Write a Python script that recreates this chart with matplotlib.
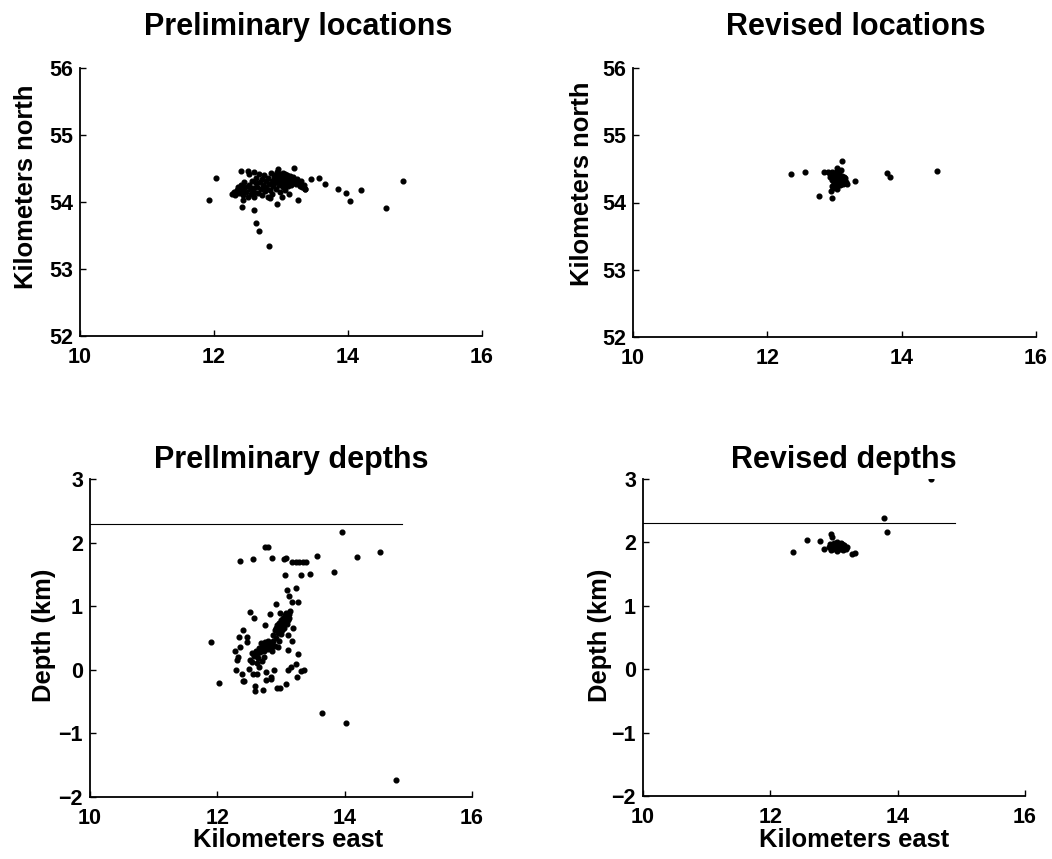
import matplotlib
matplotlib.use("Agg")
import matplotlib.pyplot as plt

plt.rcParams['font.family'] = ['Liberation Sans', 'DejaVu Sans']
plt.rcParams['font.weight'] = 'bold'

W = 1052
H = 859

# preliminary epicentres (km east, km north)
prelim_loc_east = [11.92, 12.03, 12.42, 12.44, 12.59, 12.63, 12.67, 12.82, 12.94, 13.25,
                   13.20, 13.45, 13.57, 13.65, 13.85, 13.97, 14.03, 14.19, 14.57, 14.82,
                   13.36, 12.41, 12.51, 12.52, 12.59, 12.96,
                   12.27, 12.30, 12.32, 12.35, 12.36, 12.38, 12.40, 12.42, 12.44, 12.45,
                   12.47, 12.48, 12.50, 12.52, 12.53, 12.55, 12.56, 12.58, 12.60, 12.60,
                   12.62, 12.63, 12.64, 12.66, 12.67, 12.68, 12.70, 12.71, 12.72, 12.73,
                   12.75, 12.76, 12.77, 12.78, 12.80, 12.81, 12.82, 12.83, 12.85, 12.86,
                   12.87, 12.88, 12.89, 12.90,
                   12.91, 12.92, 12.93, 12.94, 12.95, 12.96, 12.97, 12.98, 12.99, 13.00,
                   13.00, 13.01, 13.02, 13.03, 13.03, 13.04, 13.05, 13.05, 13.06, 13.07,
                   13.08, 13.08, 13.09, 13.10, 13.10, 13.11, 13.12, 13.13, 13.14, 13.15,
                   13.16, 13.17, 13.18, 13.20, 13.22, 13.24, 13.26, 13.28, 13.30, 13.32,
                   13.34, 13.36, 12.98, 13.06, 13.12, 12.84, 13.02]
prelim_loc_north = [54.03, 54.36, 53.93, 54.03, 53.88, 53.69, 53.56, 53.35, 53.97, 54.03,
                    54.51, 54.34, 54.36, 54.27, 54.20, 54.14, 54.01, 54.18, 53.91, 54.31,
                    54.20, 54.46, 54.47, 54.42, 54.45, 54.50,
                    54.12, 54.15, 54.10, 54.18, 54.22, 54.13, 54.26, 54.18, 54.11, 54.30,
                    54.22, 54.15, 54.08, 54.25, 54.19, 54.12, 54.32, 54.21, 54.15, 54.08,
                    54.28, 54.36, 54.22, 54.14, 54.42, 54.30, 54.20, 54.10, 54.35, 54.26,
                    54.40, 54.16, 54.31, 54.22, 54.08, 54.36, 54.27, 54.18, 54.44, 54.32,
                    54.12, 54.24, 54.38, 54.29,
                    54.40, 54.34, 54.20, 54.45, 54.30, 54.38, 54.25, 54.42, 54.33, 54.36,
                    54.28, 54.40, 54.31, 54.44, 54.22, 54.35, 54.38, 54.30, 54.42, 54.33,
                    54.27, 54.37, 54.40, 54.32, 54.24, 54.36, 54.29, 54.39, 54.33, 54.26,
                    54.35, 54.30, 54.38, 54.32, 54.27, 54.34, 54.29, 54.24, 54.31, 54.22,
                    54.26, 54.20, 54.15, 54.18, 54.12, 54.06, 54.08]

# revised epicentres
revised_loc_east = [12.35, 12.56, 13.11, 13.31, 13.78, 13.83, 14.52, 12.77, 12.96, 12.95,
                    13.03, 12.85,
                    12.90, 12.93, 12.96, 12.98, 13.00, 13.02, 13.03, 13.05, 13.06, 13.07,
                    13.08, 13.09, 13.10, 13.10, 13.11, 13.12, 13.13, 13.14, 13.15, 13.16,
                    13.17, 13.18, 13.05, 13.03, 13.00, 12.99, 12.97, 12.96, 12.98, 13.02,
                    13.08, 13.12, 13.14, 13.06, 13.09, 13.04, 13.07, 13.11, 13.01, 12.94]
revised_loc_north = [54.43, 54.46, 54.61, 54.32, 54.44, 54.38, 54.47, 54.09, 54.07, 54.17,
                     54.20, 54.46,
                     54.45, 54.43, 54.46, 54.40, 54.44, 54.38, 54.47, 54.42, 54.35, 54.40,
                     54.31, 54.37, 54.33, 54.28, 54.40, 54.35, 54.30, 54.33, 54.29, 54.36,
                     54.31, 54.28, 54.30, 54.33, 54.35, 54.29, 54.33, 54.25, 54.22, 54.26,
                     54.26, 54.27, 54.38, 54.45, 54.48, 54.52, 54.28, 54.31, 54.41, 54.38]

# preliminary depths (km east, depth km)
prelim_dep_east = [13.96, 11.90, 12.02, 12.35, 12.56, 12.75, 12.80, 12.86, 13.05, 13.08,
                   13.18, 13.23, 13.28, 13.34, 13.39, 13.56, 13.84, 14.19, 14.56, 13.07,
                   13.31, 13.45, 13.10, 13.24, 13.13, 13.17, 13.26, 12.92, 12.51, 12.57,
                   12.82, 12.75, 12.98, 13.19, 13.18, 13.11, 12.40, 12.34, 12.46, 12.47,
                   12.35, 12.27, 12.33, 12.31, 13.11, 13.27, 13.24, 12.49, 12.62, 12.30,
                   12.38, 12.40, 12.42, 12.56, 12.62, 12.77, 12.84, 12.89, 12.76, 12.85,
                   12.59, 12.59, 12.72, 12.93, 12.98, 13.08, 13.11, 13.15, 13.25, 13.32,
                   13.36, 13.64, 14.02, 14.80,
                   12.90, 12.92, 12.94, 12.96, 12.97, 12.99, 13.00, 13.02, 13.03, 13.05,
                   13.06, 13.07, 13.08, 13.10, 13.11, 13.12, 13.13, 13.04, 12.95, 12.98,
                   13.01, 13.09, 13.14, 12.88, 13.00,
                   12.60, 12.63, 12.65, 12.67, 12.68, 12.70, 12.72, 12.73, 12.75, 12.76,
                   12.78, 12.79, 12.80, 12.81, 12.83, 12.84, 12.86, 12.88, 12.90, 12.92,
                   12.64, 12.58, 12.54, 12.70, 12.52, 12.66, 12.86, 12.95, 12.97, 12.55,
                   12.74]
prelim_depth = [2.16, 0.43, -0.21, 1.71, 1.74, 1.93, 1.93, 1.76, 1.74, 1.76,
                1.70, 1.69, 1.69, 1.69, 1.70, 1.79, 1.54, 1.78, 1.86, 1.49,
                1.49, 1.50, 1.25, 1.28, 1.16, 1.06, 1.06, 1.04, 0.91, 0.81,
                0.87, 0.71, 0.90, 0.66, 0.46, 0.54, 0.62, 0.52, 0.52, 0.44,
                0.36, 0.29, 0.20, 0.16, 0.31, 0.25, 0.09, 0.02, 0.10, -0.01,
                -0.06, -0.17, -0.17, -0.06, -0.07, -0.04, -0.11, 0.00, -0.16, -0.14,
                -0.25, -0.33, -0.32, -0.29, -0.29, -0.22, -0.01, 0.04, -0.12, -0.02,
                0.00, -0.68, -0.84, -1.73,
                0.62, 0.66, 0.70, 0.64, 0.74, 0.69, 0.78, 0.72, 0.82, 0.76,
                0.86, 0.80, 0.90, 0.84, 0.78, 0.88, 0.82, 0.66, 0.58, 0.60,
                0.62, 0.72, 0.92, 0.55, 0.56,
                0.30, 0.24, 0.35, 0.28, 0.42, 0.33, 0.38, 0.30, 0.44, 0.36,
                0.40, 0.32, 0.46, 0.38, 0.42, 0.34, 0.40, 0.45, 0.38, 0.50,
                0.18, 0.22, 0.26, 0.14, 0.15, 0.05, 0.30, 0.36, 0.45, 0.12,
                0.20]

# revised depths
revised_dep_east = [12.36, 12.57, 12.78, 12.85, 12.95, 12.97, 13.78, 13.84, 14.53, 13.28,
                    13.33,
                    12.92, 12.94, 12.96, 12.98, 13.00, 13.01, 13.03, 13.04, 13.05, 13.06,
                    13.08, 13.09, 13.10, 13.12, 13.13, 13.14, 13.15, 13.17, 13.19, 13.02,
                    13.07, 13.11, 12.99, 13.16, 13.20, 13.04, 13.08]
revised_depth = [1.85, 2.04, 2.02, 1.90, 2.14, 2.08, 2.39, 2.17, 3.00, 1.82,
                 1.84,
                 1.92, 1.97, 1.88, 1.95, 1.99, 1.91, 1.96, 1.87, 2.00, 1.93,
                 1.97, 1.89, 1.95, 1.92, 1.98, 1.88, 1.94, 1.91, 1.89, 1.93,
                 1.90, 1.99, 1.89, 1.96, 1.93, 1.94, 1.93]

surface_depth = 2.3
surface_east = [10, 14.9]


def make_axes(fig, left, right, top, bottom):
    ax = fig.add_axes([left / W, (H - bottom) / H, (right - left) / W, (bottom - top) / H])
    ax.spines['top'].set_visible(False)
    ax.spines['right'].set_visible(False)
    ax.spines['left'].set_linewidth(1.3)
    ax.spines['bottom'].set_linewidth(1.3)
    ax.tick_params(direction='in', length=4, width=1.0, labelsize=15.5)
    ax.tick_params(axis='y', pad=5)
    ax.tick_params(axis='x', pad=8)
    ax.set_xlim(10, 16)
    ax.set_xticks([10, 12, 14, 16])
    return ax


fig = plt.figure(figsize=(W / 100, H / 100), dpi=100)

dot = dict(marker='o', linestyle='none', color='black', markersize=3.4)

ax1 = make_axes(fig, 80, 482, 68, 336)
ax1.plot(prelim_loc_east, prelim_loc_north, **dot)
ax1.set_ylim(52, 56)
ax1.set_yticks([52, 53, 54, 55, 56])

ax2 = make_axes(fig, 633, 1036, 68, 337)
ax2.plot(revised_loc_east, revised_loc_north, **dot)
ax2.set_ylim(52, 56)
ax2.set_yticks([52, 53, 54, 55, 56])

ax3 = make_axes(fig, 90, 472, 479, 797)
ax3.plot(surface_east, [surface_depth, surface_depth], color='black', linewidth=0.8)
ax3.plot(prelim_dep_east, prelim_depth, **dot)
ax3.set_ylim(-2, 3)
ax3.set_yticks([-2, -1, 0, 1, 2, 3])

ax4 = make_axes(fig, 643, 1025, 479, 796)
ax4.plot(surface_east, [surface_depth, surface_depth], color='black', linewidth=0.8)
ax4.plot(revised_dep_east, revised_depth, **dot)
ax4.set_ylim(-2, 3)
ax4.set_yticks([-2, -1, 0, 1, 2, 3])

# titles and labels placed like the original figure
tfont = dict(fontsize=22, fontweight='bold', ha='center', va='center')
fig.text(298 / W, 1 - 27 / H, 'Preliminary locations', **tfont)
fig.text(856 / W, 1 - 27 / H, 'Revised locations', **tfont)
fig.text(291 / W, 1 - 460 / H, 'Prellminary depths', **tfont)
fig.text(844 / W, 1 - 460 / H, 'Revised depths', **tfont)

lfont = dict(fontsize=18.4, fontweight='bold', ha='center', va='center')
fig.text(26 / W, 1 - 187 / H, 'Kilometers north', rotation=90, **lfont)
fig.text(582 / W, 1 - 184 / H, 'Kilometers north', rotation=90, **lfont)
fig.text(44 / W, 1 - 635 / H, 'Depth (km)', rotation=90, **lfont)
fig.text(600 / W, 1 - 635 / H, 'Depth (km)', rotation=90, **lfont)
fig.text(288 / W, 1 - 840 / H, 'Kilometers east', **lfont)
fig.text(854 / W, 1 - 840 / H, 'Kilometers east', **lfont)

fig.savefig('out.png', dpi=100, facecolor='white')
